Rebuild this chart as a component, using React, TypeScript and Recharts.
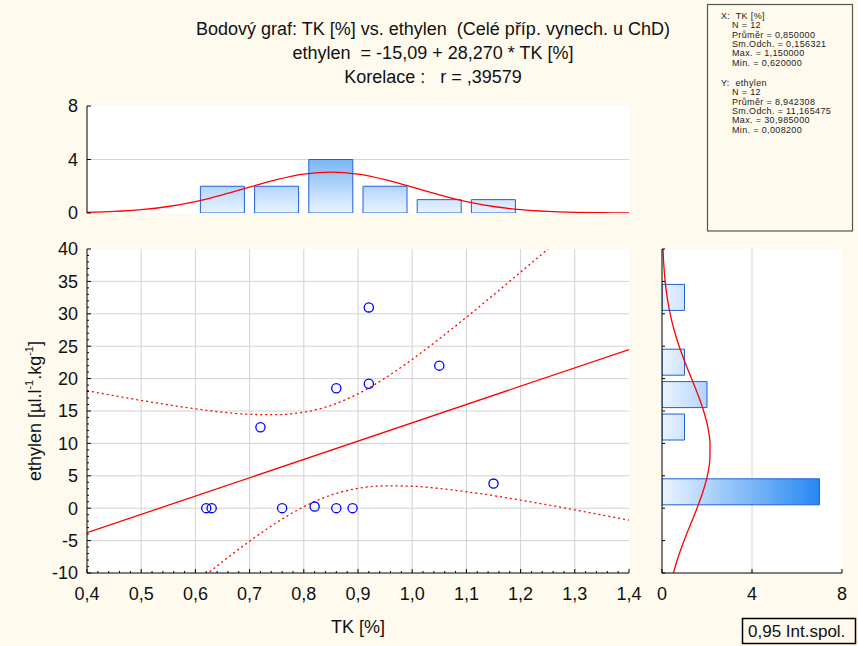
import React from "react";
import { ComposedChart, Bar, Line, Scatter, XAxis, YAxis, CartesianGrid } from "recharts";

const FONT = "'Liberation Sans', Arial, Helvetica, sans-serif";
const BG = "#FFFAEE";

// points: TK [%] vs ethylen
const tk = [0.62, 0.63, 0.72, 0.76, 0.82, 0.86, 0.86, 0.89, 0.92, 0.92, 1.05, 1.15];
const ethylen = [0.01, 0.0082, 12.5, 0.01, 0.25, 18.5, 0.01, 0.01, 30.985, 19.2, 22.0, 3.8];

// ethylen = -15,09 + 28,270 * TK
const fitX = [0.4, 1.4];
const fitY = [-3.78, 24.49];

// 0,95 int. spol.
const bandX = [0.4, 0.45, 0.5, 0.55, 0.6, 0.65, 0.7, 0.75, 0.8, 0.85, 0.9, 0.95, 1.0, 1.05, 1.1, 1.15, 1.2, 1.25, 1.3, 1.35, 1.4];
const bandUpper = [18.13, 17.37, 16.64, 15.95, 15.34, 14.83, 14.49, 14.43, 14.82, 15.86, 17.65, 20.08, 22.97, 26.14, 29.47, 32.91, 36.43, 39.98, 43.58, 47.19, 50.83];
const bandLower = [-25.7, -22.11, -18.55, -15.04, -11.59, -8.26, -5.09, -2.21, 0.23, 2.02, 3.06, 3.45, 3.39, 3.05, 2.54, 1.93, 1.24, 0.51, -0.26, -1.05, -1.85];

// histogram TK (top)
const tkBinMid = [0.45, 0.55, 0.65, 0.75, 0.85, 0.95, 1.05, 1.15, 1.25, 1.35];
const tkBinCount = [0, 0, 2, 2, 4, 2, 1, 1, 0, 0];
const tkNormX = [0.4, 0.45, 0.5, 0.55, 0.6, 0.65, 0.7, 0.75, 0.8, 0.85, 0.9, 0.95, 1.0, 1.05, 1.1, 1.15, 1.2, 1.25, 1.3, 1.35, 1.4];
const tkNormY = [0.049, 0.116, 0.25, 0.486, 0.852, 1.351, 1.932, 2.496, 2.91, 3.063, 2.91, 2.496, 1.932, 1.351, 0.852, 0.486, 0.25, 0.116, 0.049, 0.018, 0.006];

// histogram ethylen (right)
const ethBinMid = [-7.5, -2.5, 2.5, 7.5, 12.5, 17.5, 22.5, 27.5, 32.5, 37.5];
const ethBinCount = [0, 0, 7, 0, 1, 2, 1, 0, 1, 0];
const ethNormV = [-10, -7.5, -5, -2.5, 0, 2.5, 5, 7.5, 10, 12.5, 15, 17.5, 20, 22.5, 25, 27.5, 30, 32.5, 35, 37.5, 40];
const ethNormN = [0.509, 0.725, 0.983, 1.268, 1.556, 1.816, 2.015, 2.126, 2.134, 2.038, 1.85, 1.598, 1.313, 1.025, 0.762, 0.539, 0.362, 0.231, 0.141, 0.081, 0.045];

// axis ticks
const xTicks = [0.4, 0.5, 0.6, 0.7, 0.8, 0.9, 1.0, 1.1, 1.2, 1.3, 1.4];
const yTicks = [-10, -5, 0, 5, 10, 15, 20, 25, 30, 35, 40];
const histTicks = [0, 4, 8];
const xMinor = Array.from({ length: 51 }, (_, i) => +(0.4 + i * 0.02).toFixed(2));
const yMinor = Array.from({ length: 51 }, (_, i) => i - 10);

const statsX = ["N = 12", "Průměr = 0,850000", "Sm.Odch. = 0,156321", "Max. = 1,150000", "Min. = 0,620000"];
const statsY = ["N = 12", "Průměr = 8,942308", "Sm.Odch. = 11,165475", "Max. = 30,985000", "Min. = 0,008200"];

const points = tk.map((x, i) => ({ x, y: ethylen[i] }));
const fitData = fitX.map((x, i) => ({ x, y: fitY[i] }));
const upperData = bandX.map((x, i) => ({ x, y: bandUpper[i] }));
const lowerData = bandX.map((x, i) => ({ x, y: bandLower[i] }));
const tkBins = tkBinMid.map((mid, i) => ({ mid, count: tkBinCount[i] }));
const tkNorm = tkNormX.map((x, i) => ({ x, n: tkNormY[i] }));
const ethBins = ethBinMid.map((mid, i) => ({ mid, count: ethBinCount[i] }));
const ethNorm = ethNormV.map((v, i) => ({ v, n: ethNormN[i] }));

const tickText = { fontFamily: FONT, fontSize: 18, fill: "#111" };
const frame = { stroke: "#000", strokeWidth: 1 };
const comma = (v: number) => v.toFixed(1).replace(".", ",");

type Side = "bottom" | "top" | "left" | "right";

// inward tick marks, labels only on the major values
function edgeTick(side: Side, majors: number[], labels: boolean, majorLen = 4, minorLen = 2, fmt: (v: number) => string = (v) => String(v)) {
  return (props: any) => {
    const { x, y, payload } = props;
    const v = Number(payload.value);
    const major = majors.some((m) => Math.abs(m - v) < 1e-6);
    const len = major ? majorLen : minorLen;
    let x2 = x, y2 = y, tx = x, ty = y;
    let anchor: "middle" | "end" = "middle";
    if (side === "bottom") { y2 = y - len; ty = y + 26.5; }
    else if (side === "top") { y2 = y + len; }
    else if (side === "left") { x2 = x + len; tx = x - 9; ty = y + 6.3; anchor = "end"; }
    else { x2 = x - len; }
    return (
      <g>
        {len > 0 && <line x1={x} y1={y} x2={x2} y2={y2} stroke="#000" strokeWidth={1} />}
        {labels && major && (
          <text x={tx} y={ty} textAnchor={anchor} style={tickText}>{fmt(v)}</text>
        )}
      </g>
    );
  };
}

const ring = (p: any) => (
  <circle cx={p.cx} cy={p.cy} r={4.6} fill="none" stroke="#0000FF" strokeWidth={1.3} />
);

const axisBase = { tickSize: 0, tickMargin: 0, tickLine: false, axisLine: frame, interval: 0 as const, allowDataOverflow: true };

function TopHistogram() {
  return (
    <ComposedChart width={640} height={140} data={tkBins} margin={{ top: 14, right: 11, bottom: 19, left: 0 }}>
      <defs>
        <linearGradient id="tkGrad" gradientUnits="userSpaceOnUse" x1="0" y1="121" x2="0" y2="14">
          <stop offset="0" stopColor="#EAF4FF" />
          <stop offset="1" stopColor="#0A78F0" />
        </linearGradient>
      </defs>
      <CartesianGrid vertical={false} horizontalValues={[4]} stroke="#d4d4d4" fill="#fff" fillOpacity={1} />
      <XAxis {...axisBase} dataKey="mid" type="number" domain={[0.4, 1.4]} ticks={xTicks} height={0} tick={edgeTick("bottom", xTicks, false)} />
      <XAxis {...axisBase} xAxisId="top" orientation="top" type="number" domain={[0.4, 1.4]} ticks={xTicks} height={0} tick={edgeTick("top", xTicks, false)} />
      <XAxis xAxisId="curve" hide dataKey="x" type="number" domain={[0.4, 1.4]} allowDataOverflow />
      <YAxis {...axisBase} type="number" domain={[0, 8]} ticks={histTicks} width={87} tick={edgeTick("left", histTicks, true)} />
      <YAxis {...axisBase} yAxisId="r" orientation="right" type="number" domain={[0, 8]} ticks={histTicks} width={0} tick={edgeTick("right", histTicks, false)} />
      <Bar dataKey="count" barSize={44} fill="url(#tkGrad)" stroke="#2160D4" strokeWidth={1} isAnimationActive={false} />
      <Line xAxisId="curve" data={tkNorm} dataKey="n" type="monotone" stroke="#FF0000" strokeWidth={1.3} dot={false} activeDot={false} isAnimationActive={false} />
    </ComposedChart>
  );
}

function MainScatter() {
  return (
    <ComposedChart width={652} height={416} margin={{ top: 19, right: 23, bottom: 23, left: 0 }}>
      <CartesianGrid verticalValues={xTicks.slice(1, -1)} horizontalValues={yTicks.slice(1, -1)} stroke="#d2d2d2" fill="#fff" fillOpacity={1} />
      <XAxis {...axisBase} dataKey="x" type="number" domain={[0.4, 1.4]} ticks={xMinor} height={50} tick={edgeTick("bottom", xTicks, true, 4, 2, comma)} />
      <XAxis {...axisBase} xAxisId="top" orientation="top" type="number" domain={[0.4, 1.4]} ticks={xMinor} height={0} tick={edgeTick("top", xTicks, false)} />
      <YAxis {...axisBase} dataKey="y" type="number" domain={[-10, 40]} ticks={yMinor} width={87} tick={edgeTick("left", yTicks, true)} />
      <YAxis {...axisBase} yAxisId="r" orientation="right" type="number" domain={[-10, 40]} ticks={yTicks} width={0} tick={edgeTick("right", yTicks, false)} />
      <Line data={fitData} dataKey="y" type="linear" stroke="#FF0000" strokeWidth={1.3} dot={false} activeDot={false} isAnimationActive={false} />
      <Line data={upperData} dataKey="y" type="monotone" stroke="#FF0000" strokeWidth={1.3} strokeDasharray="2 3" dot={false} activeDot={false} isAnimationActive={false} />
      <Line data={lowerData} dataKey="y" type="monotone" stroke="#FF0000" strokeWidth={1.3} strokeDasharray="2 3" dot={false} activeDot={false} isAnimationActive={false} />
      <Scatter data={points} shape={ring} isAnimationActive={false} />
    </ComposedChart>
  );
}

function RightHistogram() {
  return (
    <ComposedChart layout="vertical" width={218} height={416} data={ethBins} margin={{ top: 19, right: 16, bottom: 23, left: 0 }}>
      <defs>
        <linearGradient id="ethGrad" gradientUnits="userSpaceOnUse" x1="22" y1="0" x2="202" y2="0">
          <stop offset="0" stopColor="#EAF4FF" />
          <stop offset="1" stopColor="#0A78F0" />
        </linearGradient>
      </defs>
      <CartesianGrid horizontal={false} verticalValues={[4]} stroke="#d4d4d4" fill="#fff" fillOpacity={1} />
      <XAxis {...axisBase} type="number" domain={[0, 8]} ticks={histTicks} height={50} tick={edgeTick("bottom", histTicks, true)} />
      <XAxis {...axisBase} xAxisId="top" orientation="top" type="number" domain={[0, 8]} ticks={histTicks} height={0} tick={edgeTick("top", histTicks, false)} />
      <YAxis {...axisBase} reversed dataKey="mid" type="number" domain={[-10, 40]} ticks={yTicks} width={22} tick={edgeTick("left", yTicks, false, 3)} />
      <YAxis {...axisBase} reversed yAxisId="r" orientation="right" type="number" domain={[-10, 40]} ticks={yTicks} width={0} tick={edgeTick("right", yTicks, false)} />
      <YAxis yAxisId="curve" reversed hide dataKey="v" type="number" domain={[-10, 40]} allowDataOverflow />
      <Bar dataKey="count" barSize={26} fill="url(#ethGrad)" stroke="#2160D4" strokeWidth={1} isAnimationActive={false} />
      <Line yAxisId="curve" data={ethNorm} dataKey="n" type="monotone" stroke="#FF0000" strokeWidth={1.3} dot={false} activeDot={false} isAnimationActive={false} />
    </ComposedChart>
  );
}

export default function App() {
  const lineH = 9.4;
  return (
    <div style={{ position: "absolute", left: 0, top: 0, width: 858, height: 646, background: BG, overflow: "hidden", fontFamily: FONT }}>
      <div style={{ position: "absolute", left: 0, top: 92 }}>
        <TopHistogram />
      </div>
      <div style={{ position: "absolute", left: 0, top: 230 }}>
        <MainScatter />
      </div>
      <div style={{ position: "absolute", left: 640, top: 230 }}>
        <RightHistogram />
      </div>
      <svg width={858} height={646} style={{ position: "absolute", left: 0, top: 0, pointerEvents: "none" }}>
        <g style={{ fontFamily: FONT, fontSize: 18, fill: "#111" }} textAnchor="middle" dominantBaseline="central">
          <text x={433} y={29} style={{ whiteSpace: "pre" }}>Bodový graf: TK [%] vs. ethylen  (Celé příp. vynech. u ChD)</text>
          <text x={433} y={53} style={{ whiteSpace: "pre" }}>ethylen  = -15,09 + 28,270 * TK [%]</text>
          <text x={433} y={77} style={{ whiteSpace: "pre" }}>Korelace :   r = ,39579</text>
          <text x={358} y={627}>TK [%]</text>
          <text transform="translate(35,411) rotate(-90)">
            ethylen [µl.l<tspan baselineShift="super" fontSize={11}>-1</tspan>.kg<tspan baselineShift="super" fontSize={11}>-1</tspan>]
          </text>
        </g>
        <rect x={707.5} y={4.5} width={145} height={226.5} fill="none" stroke="#555" strokeWidth={1.2} />
        <g style={{ fontFamily: FONT, fontSize: 9, letterSpacing: 0.35, fill: "#222" }} dominantBaseline="central">
          <text x={721} y={15.7} style={{ whiteSpace: "pre" }}>X:  TK [%]</text>
          {statsX.map((s, i) => (
            <text key={"x" + i} x={732} y={15.7 + (i + 1) * lineH}>{s}</text>
          ))}
          <text x={721} y={82.7} style={{ whiteSpace: "pre" }}>Y:  ethylen</text>
          {statsY.map((s, i) => (
            <text key={"y" + i} x={732} y={82.7 + (i + 1) * lineH}>{s}</text>
          ))}
        </g>
        <rect x={742.5} y={618.5} width={113} height={25} fill="none" stroke="#000" strokeWidth={1.5} />
        <text x={748} y={631} dominantBaseline="central" style={{ fontFamily: FONT, fontSize: 17, fill: "#111" }}>0,95 Int.spol.</text>
      </svg>
    </div>
  );
}
